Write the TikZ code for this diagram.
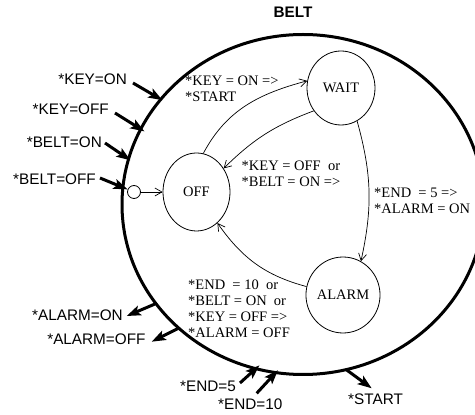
\documentclass[tikz,border=0pt]{standalone}
\usepackage{fontspec}
\setmainfont{Liberation Serif}
\setsansfont{Liberation Sans}
\usetikzlibrary{arrows.meta,shapes.geometric}

\begin{document}
\begin{tikzpicture}[x=1pt,y=1pt,
  state/.style={ellipse, draw, line width=0.8pt, inner sep=0pt,
    font=\fontsize{14.5}{16}\selectfont},
  cond/.style={align=left, inner sep=0pt, anchor=west,
    font=\fontsize{14.5}{16}\selectfont},
  signame/.style={inner sep=0pt, font=\sffamily\fontsize{15.3}{17}\selectfont},
  trans/.style={line width=0.7pt, -{Straight Barb[length=7pt,width=8pt]}},
  sig/.style={line width=3pt, -{Stealth[length=14pt,width=10pt,inset=3pt]}},
  sigin/.style={sig, shorten >=3pt},
  tapstyle/.style={circle, draw, line width=0.8pt, minimum size=13pt, inner sep=0pt}
]
\useasboundingbox (0,0) rectangle (475,415);
\clip (0,0) rectangle (475,415);

% chart title and boundary
\node[signame, font=\sffamily\bfseries\fontsize{15.3}{17}\selectfont] (title) at (293,403) {BELT};
\draw[line width=3pt] (303,210.5) ellipse [x radius=181, y radius=170];

% states
\node[state, minimum width=67pt, minimum height=78pt] (off) at (196.5,223) {OFF};
\node[state, minimum width=68pt, minimum height=74pt] (wait) at (341,327) {WAIT};
\node[state, minimum width=70pt, minimum height=76pt] (alarm) at (343,120) {ALARM};

% default entry
\node[tapstyle] (tap) at (134,223) {};
\draw[trans] (tap) -- (off);

% transitions
\draw[trans] (off.80) to[out=62, in=195] (wait.168);
\draw[trans] (wait.220) to[bend right=12] (off.41);
\draw[trans] (wait.-64) to[bend left=14] (alarm.62);
\draw[trans] (alarm.167) to[out=165, in=-55] (off.-56);

% transition conditions and actions
\node[cond] (c1) at (185,326.5) {*KEY = ON =>\\*START};
\node[cond] (c2) at (241.5,241.3) {*KEY = OFF\ \ or\\*BELT = ON =>};
\node[cond] (c3) at (374,214) {*END\ \ = 5 =>\\*ALARM = ON};
\node[cond] (c4) at (188,106) {*END\ \ = 10\ \ or\\*BELT = ON\ \ or\\*KEY = OFF =>\\*ALARM = OFF};

% input events
\node[signame, anchor=east] (kon) at (127,336) {*KEY=ON};
\node[signame, anchor=east] (koff) at (109,306) {*KEY=OFF};
\node[signame, anchor=east] (bon) at (102,273) {*BELT=ON};
\node[signame, anchor=east] (boff) at (96,236) {*BELT=OFF};
\node[signame, anchor=west] (e5) at (180,28.3) {*END=5};
\node[signame, anchor=west] (e10) at (218,11) {*END=10};

% output events
\node[signame, anchor=east] (aon) at (123,100) {*ALARM=ON};
\node[signame, anchor=east] (aoff) at (145.7,75.7) {*ALARM=OFF};
\node[signame, anchor=west] (st) at (348,15.7) {*START};

% event arrow end points
\coordinate (kon-a) at (133,332);   \coordinate (kon-b) at (165,313.3);
\coordinate (koff-a) at (115,302);  \coordinate (koff-b) at (147,282);
\coordinate (bon-a) at (105,272);   \coordinate (bon-b) at (133,253);
\coordinate (boff-a) at (100,237);
\coordinate (e5-a) at (240,32);     \coordinate (e5-b) at (261.7,51.7);
\coordinate (e10-a) at (256.7,21.7);\coordinate (e10-b) at (280,47);
\coordinate (aon-a) at (155,111);   \coordinate (aon-b) at (126.7,99);
\coordinate (aoff-a) at (178.3,86.7);\coordinate (aoff-b) at (151.7,73.3);
\coordinate (st-a) at (346.7,45);   \coordinate (st-b) at (371.7,26.7);

\draw[sigin] (kon-a) -- (kon-b);
\draw[sigin] (koff-a) -- (koff-b);
\draw[sigin] (bon-a) -- (bon-b);
\draw[sig] (boff-a) -- (tap);
\draw[sigin] (e5-a) -- (e5-b);
\draw[sigin] (e10-a) -- (e10-b);
\draw[sig] (aon-a) -- (aon-b);
\draw[sig] (aoff-a) -- (aoff-b);
\draw[sig] (st-a) -- (st-b);
\end{tikzpicture}
\end{document}
